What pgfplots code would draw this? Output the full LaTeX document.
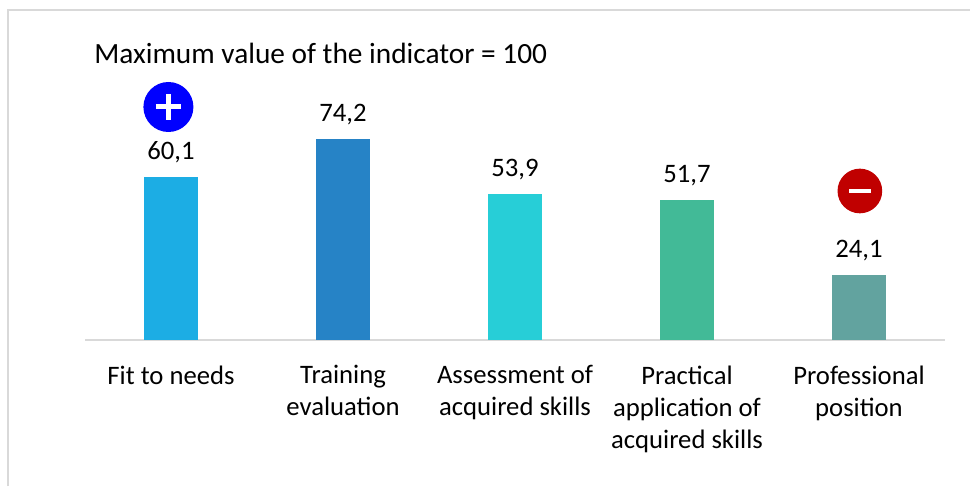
\documentclass[border=0pt]{standalone}
\usepackage{fontspec}
\setmainfont{Carlito}
\usepackage{pgfplots}
\pgfplotsset{compat=1.18}
\definecolor{barA}{HTML}{1CADE4}
\definecolor{barB}{HTML}{2683C6}
\definecolor{barC}{HTML}{27CED7}
\definecolor{barD}{HTML}{42BA97}
\definecolor{barE}{HTML}{62A39F}
\definecolor{frameg}{HTML}{D9D9D9}
\definecolor{minusred}{HTML}{C00000}
\newcommand{\chartfont}{\fontsize{20}{24}\selectfont}
\begin{document}
\begin{tikzpicture}[x=1pt,y=1pt]
\useasboundingbox (0,0) rectangle (727.5,364.5);
\draw[frameg,line width=1.5pt] (6,0) -- (6,357) -- (727.5,357);
\node[anchor=west,inner sep=0pt,font=\fontsize{22}{24}\selectfont] at (70.5,324.5) {Maximum value of the indicator = 100};
\begin{axis}[
  at={(63.75pt,109.5pt)}, anchor=south west,
  scale only axis, width=645pt, height=203.2pt,
  xmin=-0.5, xmax=4.5, ymin=0, ymax=100,
  axis y line=none, axis x line=bottom,
  axis line style={frameg,line width=1.5pt,-},
  xtick={0,1,2,3,4},
  xticklabels={Fit to needs,{Training\\evaluation},{Assessment of\\acquired skills},{Practical\\application of\\acquired skills},{Professional\\position}},
  major tick length=0pt,
  xticklabel style={align=center,font=\chartfont,anchor=north,yshift=-19pt,inner sep=0pt},
  ybar, bar width=40.5pt, bar shift=0pt,
  clip=false,
  nodes near coords,
  nodes near coords style={font=\chartfont,text=black,anchor=south,yshift=10.25pt,inner sep=0pt,
    /pgf/number format/.cd,fixed,fixed zerofill,precision=1,use comma,assume math mode=true},
]
\addplot[draw=none,fill=barA] coordinates {(0,60.1)};
\addplot[draw=none,fill=barB] coordinates {(1,74.2)};
\addplot[draw=none,fill=barC] coordinates {(2,53.9)};
\addplot[draw=none,fill=barD] coordinates {(3,51.7)};
\addplot[draw=none,fill=barE] coordinates {(4,24.1)};
\node[circle,fill=blue,minimum size=37.5pt,inner sep=0pt] (pl) at (axis cs:-0.015,86) {};
\draw[white,line width=3.75pt] ([xshift=-9.4pt]pl.center) -- ([xshift=9.4pt]pl.center);
\draw[white,line width=3.75pt] ([yshift=-9.4pt]pl.center) -- ([yshift=9.4pt]pl.center);
\node[circle,fill=minusred,minimum size=33.5pt,inner sep=0pt] (mi) at (axis cs:4.005,55) {};
\draw[white,line width=3.5pt] ([xshift=-8pt]mi.center) -- ([xshift=8pt]mi.center);
\end{axis}
\end{tikzpicture}
\end{document}
